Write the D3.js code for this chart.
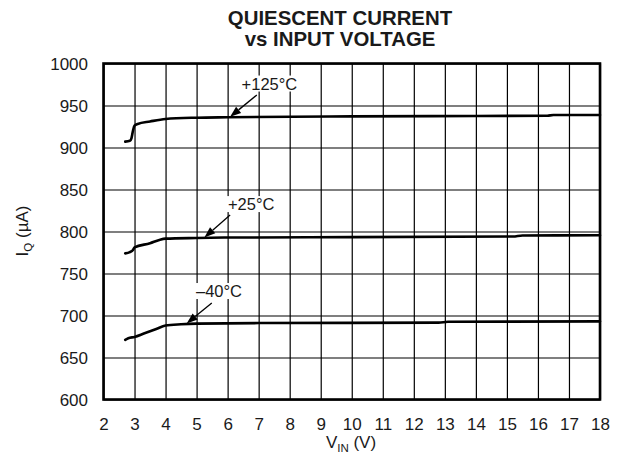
<!DOCTYPE html>
<html><head><meta charset="utf-8">
<script src="https://cdn.jsdelivr.net/npm/d3@7/dist/d3.min.js"></script>
<style>
body{margin:0;background:#fff}
svg{display:block}
text{font-family:"Liberation Sans",Arial,Helvetica,sans-serif;fill:#1a1a1a}
</style>
</head><body>
<svg id="c" width="621" height="466"></svg>
<script>
// ---- data ----
const titleLines = ["QUIESCENT CURRENT", "vs INPUT VOLTAGE"];
const xTickValues = [2,3,4,5,6,7,8,9,10,11,12,13,14,15,16,17,18];
const yTickValues = [600,650,700,750,800,850,900,950,1000];

const vin125 = [2.7, 2.85, 2.9, 2.95, 3.0, 3.1, 3.5, 4, 5, 6, 10, 14, 16.3, 16.5, 18];
const iq125  = [907, 908, 911, 920, 926, 928, 931, 934, 935.5, 936, 937, 937.5, 937.8, 938.7, 938.7];

const vin25 = [2.7, 2.85, 2.95, 3.0, 3.5, 3.8, 4, 5, 6, 10, 15.2, 15.5, 18];
const iq25  = [774, 775.5, 778, 781, 786, 790, 791.5, 792.3, 792.8, 793.3, 794, 795.3, 795.5];

const vin40 = [2.7, 2.8, 3.0, 3.3, 3.7, 4, 4.5, 5, 7, 12.8, 13.1, 18];
const iq40  = [671, 673, 674.5, 678.5, 684, 688, 689.5, 690.3, 691, 691.5, 692.5, 693];

const labels = ["+125°C", "+25°C", "\u201340°C"];
// annotation anchors in data units: text start, arrow tail, arrow tip
const labelTextV = [6.45, 6.01, 4.98];
const labelTextI = [969, 825.5, 722];
const arrowTailV = [6.94, 6.08, 5.49];
const arrowTailI = [962.5, 819.6, 715];
const arrowTipV  = [6.08, 5.25, 4.68];
const arrowTipI  = [936.5, 793, 690.5];

// ---- layout ----
const svg = d3.select("#c");
const L = 103.5, R = 600, T = 63.5, B = 399.5;
const x = d3.scaleLinear().domain([2,18]).range([L,R]);
const y = d3.scaleLinear().domain([600,1000]).range([B,T]);

// title
svg.append("text").attr("x",340).attr("y",24.5).attr("text-anchor","middle")
  .style("font-weight","bold").style("font-size","20.4px").text(titleLines[0]);
svg.append("text").attr("x",340).attr("y",45.7).attr("text-anchor","middle")
  .style("font-weight","bold").style("font-size","20.4px").text(titleLines[1]);

// grid
const g = svg.append("g");
g.append("g").attr("transform",`translate(0,${B})`)
  .call(d3.axisBottom(x).tickValues(xTickValues).tickSize(-(B-T)).tickFormat(""))
  .call(s=>s.select(".domain").remove())
  .call(s=>s.selectAll("line").attr("stroke","#000").attr("stroke-width",1.2));
g.append("g").attr("transform",`translate(${L},0)`)
  .call(d3.axisLeft(y).tickValues(yTickValues).tickSize(-(R-L)).tickFormat(""))
  .call(s=>s.select(".domain").remove())
  .call(s=>s.selectAll("line").attr("stroke","#000").attr("stroke-width",1.2));

// tick labels via axes
const xa = svg.append("g").attr("transform",`translate(0,${B})`)
  .call(d3.axisBottom(x).tickValues(xTickValues).tickSize(0).tickPadding(0).tickFormat(d3.format("d")));
xa.select(".domain").remove();
xa.selectAll("text").attr("y",30).attr("dy",null).style("font-size","17px").attr("fill","#1a1a1a");

const ya = svg.append("g").attr("transform",`translate(${L},0)`)
  .call(d3.axisLeft(y).tickValues(yTickValues).tickSize(0).tickPadding(0).tickFormat(d3.format("d")));
ya.select(".domain").remove();
ya.selectAll("text").attr("x",-15.5).attr("dy","0.36em").style("font-size","17px").attr("fill","#1a1a1a");

// curves
const line = d3.line().x(d=>x(d[0])).y(d=>y(d[1])).curve(d3.curveMonotoneX);
[[vin125,iq125],[vin25,iq25],[vin40,iq40]].forEach(([vv,ii])=>{
  svg.append("path").datum(vv.map((v,k)=>[v,ii[k]]))
    .attr("d",line).attr("fill","none").attr("stroke","#000")
    .attr("stroke-width",2.6).attr("stroke-linejoin","round").attr("stroke-linecap","round");
});

// annotations
labels.forEach((lab,k)=>{
  const tx = x(labelTextV[k]), ty = y(labelTextI[k]);
  const t = svg.append("text").attr("x",tx).attr("y",ty)
    .style("font-size","16.5px").text(lab);
  const bb = t.node().getBBox();
  svg.insert("rect", () => t.node()).attr("x",bb.x-2).attr("y",bb.y+1)
    .attr("width",bb.width+4).attr("height",bb.height-2).attr("fill","#fff");
  const x1 = x(arrowTailV[k]), y1 = y(arrowTailI[k]);
  const x2 = x(arrowTipV[k]), y2 = y(arrowTipI[k]);
  const ang = Math.atan2(y2-y1, x2-x1);
  const hl = 11, hw = 4;
  const bx = x2 - hl*Math.cos(ang), by = y2 - hl*Math.sin(ang);
  svg.append("line").attr("x1",x1).attr("y1",y1).attr("x2",bx).attr("y2",by)
    .attr("stroke","#000").attr("stroke-width",1.3);
  const px = -Math.sin(ang)*hw, py = Math.cos(ang)*hw;
  svg.append("path").attr("d",`M${x2},${y2}L${bx+px},${by+py}L${bx-px},${by-py}Z`).attr("fill","#000");
});

// frame
svg.append("rect").attr("x",L).attr("y",T).attr("width",R-L).attr("height",B-T)
  .attr("fill","none").attr("stroke","#000").attr("stroke-width",2.6);

// axis titles
const xt = svg.append("text").attr("x",351).attr("y",447.5).attr("text-anchor","middle").style("font-size","17px");
xt.append("tspan").text("V");
xt.append("tspan").attr("dy",4).style("font-size","11.5px").text("IN");
xt.append("tspan").attr("dy",-4).text(" (V)");

const yt = svg.append("text").attr("transform","translate(28,231) rotate(-90)").attr("text-anchor","middle").style("font-size","17px");
yt.append("tspan").text("I");
yt.append("tspan").attr("dy",4).style("font-size","11.5px").text("Q");
yt.append("tspan").attr("dy",-4).text(" (\u00B5A)");
</script>
</body></html>
